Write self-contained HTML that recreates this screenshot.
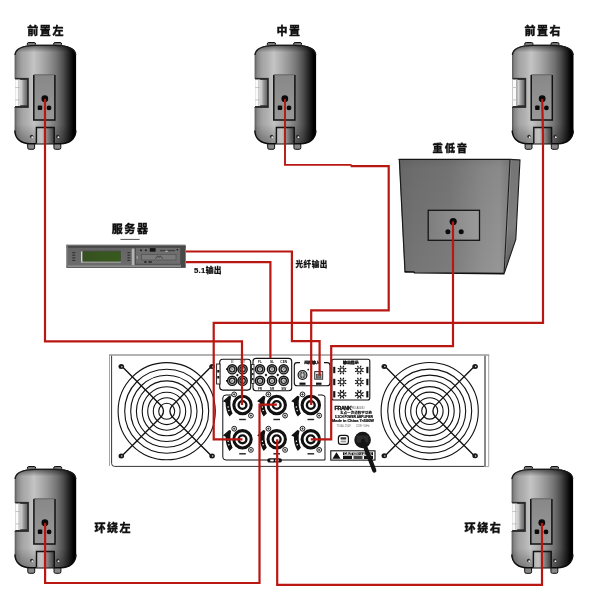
<!DOCTYPE html>
<html lang="zh-CN">
<head>
<meta charset="utf-8">
<title>5.1 功放接线图</title>
<style>
  html, body { margin: 0; padding: 0; background: #fff; }
  body { width: 600px; height: 598px; overflow: hidden; }
  svg { display: block; will-change: transform; }
  svg text { font-family: "Liberation Sans", "Noto Sans CJK SC", sans-serif; }
</style>
</head>
<body>
<svg width="600" height="598" viewBox="0 0 600 598">

<defs>
  <linearGradient id="spkg" x1="0" y1="0" x2="1" y2="0">
    <stop offset="0" stop-color="#585858"/>
    <stop offset="0.04" stop-color="#868686"/>
    <stop offset="0.12" stop-color="#a4a4a4"/>
    <stop offset="0.22" stop-color="#b2b2b2"/>
    <stop offset="0.31" stop-color="#c4c4c4"/>
    <stop offset="0.45" stop-color="#aaaaaa"/>
    <stop offset="0.58" stop-color="#8e8e8e"/>
    <stop offset="0.69" stop-color="#727272"/>
    <stop offset="0.79" stop-color="#4e4e4e"/>
    <stop offset="0.88" stop-color="#242424"/>
    <stop offset="0.96" stop-color="#000"/>
    <stop offset="1" stop-color="#000"/>
  </linearGradient>
  <linearGradient id="spkv" x1="0" y1="0" x2="0" y2="1">
    <stop offset="0" stop-color="#000" stop-opacity="0.55"/>
    <stop offset="0.035" stop-color="#000" stop-opacity="0.28"/>
    <stop offset="0.075" stop-color="#000" stop-opacity="0.0"/>
    <stop offset="0.8" stop-color="#000" stop-opacity="0.0"/>
    <stop offset="1" stop-color="#000" stop-opacity="0.3"/>
  </linearGradient>
  <linearGradient id="pnl" x1="0" y1="0" x2="0" y2="1">
    <stop offset="0" stop-color="#888888"/>
    <stop offset="1" stop-color="#989898"/>
  </linearGradient>
  <linearGradient id="brk" x1="0" y1="0" x2="1" y2="0">
    <stop offset="0" stop-color="#b4b4b4"/>
    <stop offset="0.3" stop-color="#c2c2c2"/>
    <stop offset="0.6" stop-color="#8a8a8a"/>
    <stop offset="1" stop-color="#3c3c3c"/>
  </linearGradient>
  <linearGradient id="hdl" x1="0" y1="0" x2="1" y2="0">
    <stop offset="0" stop-color="#e8e8e8"/>
    <stop offset="0.5" stop-color="#999"/>
    <stop offset="1" stop-color="#666"/>
  </linearGradient>
  <linearGradient id="subg" x1="0" y1="0" x2="1" y2="0">
    <stop offset="0" stop-color="#707070"/>
    <stop offset="0.15" stop-color="#767676"/>
    <stop offset="0.45" stop-color="#7c7c7c"/>
    <stop offset="0.75" stop-color="#909090"/>
    <stop offset="0.9" stop-color="#969696"/>
    <stop offset="1" stop-color="#828282"/>
  </linearGradient>
  <linearGradient id="subv" x1="0" y1="0" x2="0" y2="1">
    <stop offset="0" stop-color="#000" stop-opacity="0.14"/>
    <stop offset="0.08" stop-color="#000" stop-opacity="0.08"/>
    <stop offset="0.55" stop-color="#000" stop-opacity="0.04"/>
    <stop offset="1" stop-color="#000" stop-opacity="0"/>
  </linearGradient>
  <linearGradient id="subside" x1="0" y1="0" x2="0" y2="1">
    <stop offset="0" stop-color="#747474"/>
    <stop offset="0.6" stop-color="#7e7e7e"/>
    <stop offset="1" stop-color="#5a5a5a"/>
  </linearGradient>
  <linearGradient id="subp" x1="0" y1="0" x2="1" y2="0">
    <stop offset="0" stop-color="#7e7e7e"/>
    <stop offset="1" stop-color="#9a9a9a"/>
  </linearGradient>
  <linearGradient id="srvg" x1="0" y1="0" x2="0" y2="1">
    <stop offset="0" stop-color="#646464"/>
    <stop offset="1" stop-color="#6c6c6c"/>
  </linearGradient>
  <linearGradient id="lcdg" x1="0" y1="0" x2="1" y2="0">
    <stop offset="0" stop-color="#34501f"/>
    <stop offset="0.5" stop-color="#38561f"/>
    <stop offset="1" stop-color="#365a1c"/>
  </linearGradient>

<symbol id="spk" overflow="visible">
  <!-- top nubs -->
  <rect x="12.7" y="-2" width="8.3" height="3.6" rx="1.5" fill="#777" stroke="#111" stroke-width="1"/>
  <rect x="39" y="-2" width="8" height="3.6" rx="1.5" fill="#777" stroke="#111" stroke-width="1"/>
  <!-- bottom feet -->
  <rect x="13.1" y="97" width="6.9" height="7.8" rx="1.5" fill="#888" stroke="#111" stroke-width="1"/>
  <rect x="39.3" y="97" width="6.9" height="7.8" rx="1.5" fill="#888" stroke="#111" stroke-width="1"/>
  <!-- body -->
  <path d="M0,10.5 C0.3,4.5 6,0.5 22,0.3 L39.5,0.3 C55.5,0.5 61.2,4.5 61.5,10.5 L61.5,86 C61.5,94 55,99.5 46,99.5 L15.5,99.5 C6.5,99.5 0,94 0,86 Z" fill="url(#spkg)"/>
  <path d="M0,10.5 C0.3,4.5 6,0.5 22,0.3 L39.5,0.3 C55.5,0.5 61.2,4.5 61.5,10.5 L61.5,86 C61.5,94 55,99.5 46,99.5 L15.5,99.5 C6.5,99.5 0,94 0,86 Z" fill="url(#spkv)"/>
  <!-- top cap shading -->
  <path d="M0.4,10.5 C0.7,4.9 6,0.9 22,0.8 L39.5,0.8 C55.5,0.9 60.8,4.9 61.1,10.5" fill="none" stroke="#1a1a1a" stroke-width="1.3"/>
  <path d="M61.3,86 C61.3,94 55,99.2 46,99.2 L15.5,99.2 C6.5,99.2 0.2,94 0.2,86" fill="none" stroke="#0c0c0c" stroke-width="1.4"/>
  <!-- handle recess -->
  <rect x="0" y="33.4" width="14.2" height="30" fill="#2a2a2a"/>
  <rect x="0.5" y="35" width="5" height="26.5" fill="#fafafa"/>
  <rect x="5.5" y="35.4" width="7" height="25.4" fill="url(#hdl)"/><rect x="4" y="35" width="0.7" height="26.5" fill="#888"/>
  <rect x="0.5" y="42.5" width="5" height="0.8" fill="#bbb"/>
  <rect x="0.5" y="55" width="5" height="0.8" fill="#bbb"/>
  <rect x="-0.8" y="34" width="1.3" height="28.5" fill="#fff"/>
  <!-- panel -->
  <rect x="19.2" y="30" width="21.1" height="45.5" fill="url(#pnl)"/>
  <path d="M19.2,30.5 L19.2,75.5 L40.3,75.5 L40.3,30.5" fill="none" stroke="#111" stroke-width="1.5"/>
  <path d="M19.2,30.3 L40.3,30.3" fill="none" stroke="#555" stroke-width="0.7"/>
  <!-- jack -->
  <circle cx="30.2" cy="54.2" r="3.4" fill="#0a0a0a"/>
  <rect x="23.1" y="61.1" width="4.5" height="4.5" rx="1" fill="#0a0a0a"/>
  <circle cx="34.4" cy="63.4" r="2.4" fill="#0a0a0a"/>
  <!-- bottom bracket -->
  <rect x="21.8" y="83" width="17.8" height="16" fill="url(#brk)"/>
  <path d="M21.8,98.8 L21.8,83 L39.6,83 L39.6,98.8" fill="none" stroke="#111" stroke-width="1.4"/>
  <circle cx="17" cy="92" r="1.7" fill="#2a2a2a"/><circle cx="17.6" cy="92.7" r="0.9" fill="#f0f0f0"/>
  <circle cx="43.2" cy="92" r="1.7" fill="#2a2a2a"/><circle cx="43.8" cy="92.7" r="0.9" fill="#f0f0f0"/>
</symbol>
</defs>
<rect width="600" height="598" fill="#fff"/>
<!-- speakers -->
<use href="#spk" x="14.6" y="44.5"/>
<use href="#spk" x="254.6" y="44.5"/>
<use href="#spk" x="512" y="44.5"/>
<use href="#spk" x="14.7" y="468.5"/>
<use href="#spk" x="511.6" y="468.5"/>
<!-- subwoofer -->

<g>
  <polygon points="510.3,159 520,159.6 515.8,239.5 504.2,273.4" fill="url(#subside)"/>
  <polygon points="399,159 510.3,159 504.2,273.4 404.6,271.7" fill="url(#subg)"/>
  <polygon points="399,159 510.3,159 504.2,273.4 404.6,271.7" fill="url(#subv)"/>
  <path d="M510.9,160 L504.9,272" stroke="#b8b8b8" stroke-width="0.6" opacity="0.7"/>
  <path d="M398.6,159.3 L510.3,159.3" stroke="#141414" stroke-width="1.3"/>
  <path d="M510.1,159 L504.1,273.2" stroke="#1c1c1c" stroke-width="1.1"/>
  <path d="M404.6,271.9 L413.8,272 L414.5,272.8 L504.4,273.6" fill="none" stroke="#111" stroke-width="1.6"/>
  <path d="M399.3,159 L405,271.8" stroke="#1a1a1a" stroke-width="1.2"/>
  <path d="M510.3,159.4 L520,159.9 L515.8,239.5 L504.2,273.4" fill="none" stroke="#1c1c1c" stroke-width="1.1"/>
  <rect x="428.2" y="210.3" width="51.3" height="30" fill="url(#subp)" stroke="#141414" stroke-width="1.3"/>
  <circle cx="453.2" cy="221.6" r="3.6" fill="#0a0a0a"/>
  <circle cx="447.9" cy="231.8" r="2.5" fill="#0a0a0a"/>
  <circle cx="461.2" cy="231.8" r="2.5" fill="#0a0a0a"/>
</g>
<!-- server -->

<g>
  <rect x="66.5" y="244.8" width="119" height="23" fill="url(#srvg)"/>
  <rect x="66.5" y="244.8" width="119" height="1.4" fill="#6e6e6e"/>
  <rect x="66.5" y="246.2" width="119" height="1.5" fill="#404040"/>
  <rect x="66.5" y="265.4" width="119" height="1.7" fill="#8c8c8c"/>
  <rect x="66.5" y="267" width="119" height="0.9" fill="#5a5a5a"/>
  <rect x="66.5" y="244.8" width="1.5" height="23" fill="#747474"/>
  <rect x="181" y="246" width="4.5" height="21" fill="#484848"/>
  <!-- LCD -->
  <rect x="81" y="250.6" width="39.9" height="12.2" fill="#4a4a48"/>
  <rect x="81" y="251.4" width="1.6" height="11.4" fill="#d6d6d2"/>
  <rect x="81" y="261.4" width="39.9" height="1.4" fill="#a8a8a4"/>
  <rect x="82.6" y="251.6" width="37.8" height="9.8" fill="url(#lcdg)"/>
  <!-- small buttons -->
  <rect x="72.3" y="252" width="3" height="1.2" fill="#343434"/><rect x="72.3" y="254.6" width="3" height="1.2" fill="#343434"/><rect x="72.3" y="257.2" width="3" height="1.2" fill="#343434"/><rect x="72.3" y="259.8" width="3" height="1.2" fill="#343434"/>
  <rect x="127.4" y="252" width="2.8" height="1.2" fill="#343434"/><rect x="127.4" y="254.6" width="2.8" height="1.2" fill="#343434"/><rect x="127.4" y="257.2" width="2.8" height="1.2" fill="#343434"/><rect x="127.4" y="259.8" width="2.8" height="1.2" fill="#343434"/>
  <!-- divider -->
  <rect x="131.8" y="248.6" width="2.6" height="16.6" fill="#b4b4b4"/>
  <!-- right drive bay -->
  <rect x="135.4" y="247.6" width="45.2" height="16.6" fill="#6e6e6e" stroke="#464646" stroke-width="0.7"/>
  <rect x="141.6" y="254.6" width="34.4" height="5.4" fill="#7a7a7a" stroke="#4c4c4c" stroke-width="0.6"/>
  <rect x="149.8" y="248.1" width="5.8" height="3.6" fill="#161616"/>
  <circle cx="141" cy="250.2" r="1" fill="#222"/><circle cx="145.9" cy="250.2" r="1" fill="#222"/>
  <rect x="160" y="249.9" width="15" height="1.3" fill="#3e3e3e"/><rect x="165.5" y="250.6" width="2" height="1.2" fill="#ccc"/>
  <path d="M176.3,249 l2,0 l-1,2 Z" fill="#1a1a1a"/>
  <path d="M155.5,258.6 l2.2,-2.8 l1.3,1.8 l1.3,-1.8 l2.2,2.8" fill="none" stroke="#2c2c2c" stroke-width="0.7"/>
  <rect x="144.4" y="261.2" width="2" height="1.6" fill="#161616"/><rect x="148.4" y="261.2" width="3.4" height="1.6" fill="#2a2a2a"/>
  <rect x="136.6" y="256.2" width="1.2" height="2.4" fill="#aaa"/>
</g>
<!-- amplifier -->
<rect x="109" y="355" width="380" height="111.4" fill="#fff"/>
<path d="M109.5,466 L109.5,355 M488.7,355 L488.7,466.6 L485,466.6" fill="none" stroke="#a4a4a4" stroke-width="1"/>
<line x1="109" y1="355" x2="489.2" y2="355" stroke="#9a9a9a" stroke-width="1.5"/>
<path d="M111.6,355.7 L111.6,463.4 Q111.6,466.4 114.6,466.4 L484.4,466.4" fill="none" stroke="#2a2a2a" stroke-width="0.95"/>
<line x1="485" y1="355.7" x2="485" y2="466.6" stroke="#4a4a4a" stroke-width="1.3"/>
<circle cx="166.7" cy="411.2" r="8.0" fill="none" stroke="#111" stroke-width="1.1"/>
<circle cx="166.7" cy="411.2" r="13.4" fill="none" stroke="#111" stroke-width="1.1"/>
<circle cx="166.7" cy="411.2" r="19.0" fill="none" stroke="#111" stroke-width="1.1"/>
<circle cx="166.7" cy="411.2" r="24.5" fill="none" stroke="#111" stroke-width="1.1"/>
<circle cx="166.7" cy="411.2" r="30.3" fill="none" stroke="#111" stroke-width="1.1"/>
<circle cx="166.7" cy="411.2" r="36.0" fill="none" stroke="#111" stroke-width="1.1"/>
<circle cx="166.7" cy="411.2" r="42.0" fill="none" stroke="#111" stroke-width="1.1"/>
<circle cx="166.7" cy="411.2" r="48.6" fill="none" stroke="#111" stroke-width="1.1"/>
<path d="M122.1,366.59999999999997 L161.7,406.2 Q165.29999999999998,411.2 161.7,416.2 L122.1,455.8" fill="none" stroke="#111" stroke-width="1.35"/>
<path d="M211.29999999999998,366.59999999999997 L171.7,406.2 Q168.1,411.2 171.7,416.2 L211.29999999999998,455.8" fill="none" stroke="#111" stroke-width="1.35"/>
<ellipse cx="121.3" cy="366.5" rx="2.8" ry="2.5" fill="#1a1a1a"/>
<circle cx="121.8" cy="366.7" r="0.75" fill="#ddd"/>
<ellipse cx="121.3" cy="455.9" rx="2.8" ry="2.5" fill="#1a1a1a"/>
<circle cx="121.8" cy="456.1" r="0.75" fill="#ddd"/>
<ellipse cx="212.1" cy="366.5" rx="2.8" ry="2.5" fill="#1a1a1a"/>
<circle cx="212.6" cy="366.7" r="0.75" fill="#ddd"/>
<ellipse cx="212.1" cy="455.9" rx="2.8" ry="2.5" fill="#1a1a1a"/>
<circle cx="212.6" cy="456.1" r="0.75" fill="#ddd"/>
<circle cx="429.7" cy="411.1" r="8.0" fill="none" stroke="#111" stroke-width="1.1"/>
<circle cx="429.7" cy="411.1" r="13.4" fill="none" stroke="#111" stroke-width="1.1"/>
<circle cx="429.7" cy="411.1" r="19.0" fill="none" stroke="#111" stroke-width="1.1"/>
<circle cx="429.7" cy="411.1" r="24.5" fill="none" stroke="#111" stroke-width="1.1"/>
<circle cx="429.7" cy="411.1" r="30.3" fill="none" stroke="#111" stroke-width="1.1"/>
<circle cx="429.7" cy="411.1" r="36.0" fill="none" stroke="#111" stroke-width="1.1"/>
<circle cx="429.7" cy="411.1" r="42.0" fill="none" stroke="#111" stroke-width="1.1"/>
<circle cx="429.7" cy="411.1" r="48.6" fill="none" stroke="#111" stroke-width="1.1"/>
<path d="M385.09999999999997,366.5 L424.7,406.1 Q428.3,411.1 424.7,416.1 L385.09999999999997,455.70000000000005" fill="none" stroke="#111" stroke-width="1.35"/>
<path d="M474.3,366.5 L434.7,406.1 Q431.09999999999997,411.1 434.7,416.1 L474.3,455.70000000000005" fill="none" stroke="#111" stroke-width="1.35"/>
<ellipse cx="384.3" cy="366.4" rx="2.8" ry="2.5" fill="#1a1a1a"/>
<circle cx="384.8" cy="366.6" r="0.75" fill="#ddd"/>
<ellipse cx="384.3" cy="455.8" rx="2.8" ry="2.5" fill="#1a1a1a"/>
<circle cx="384.8" cy="456.0" r="0.75" fill="#ddd"/>
<ellipse cx="475.1" cy="366.4" rx="2.8" ry="2.5" fill="#1a1a1a"/>
<circle cx="475.6" cy="366.6" r="0.75" fill="#ddd"/>
<ellipse cx="475.1" cy="455.8" rx="2.8" ry="2.5" fill="#1a1a1a"/>
<circle cx="475.6" cy="456.0" r="0.75" fill="#ddd"/>
<rect x="219.7" y="359.3" width="31" height="30.8" rx="3" fill="#fff" stroke="#111" stroke-width="1.1"/>
<rect x="216.6" y="364" width="3.4" height="20" fill="#fff" stroke="#111" stroke-width="0.9"/>
<rect x="217.3" y="370" width="2" height="2.5" fill="#111"/><rect x="217.3" y="376" width="2" height="2.5" fill="#111"/>
<circle cx="232.2" cy="369.3" r="4.6" fill="#b4b4b4" stroke="#111" stroke-width="1.4"/><circle cx="232.2" cy="369.3" r="2.7" fill="#dcdcdc" stroke="#181818" stroke-width="1.2"/><path d="M230.6,367.7 l3.2,3.2 M233.79999999999998,367.7 l-3.2,3.2" stroke="#555" stroke-width="0.6"/>
<circle cx="232.2" cy="380.8" r="4.6" fill="#b4b4b4" stroke="#111" stroke-width="1.4"/><circle cx="232.2" cy="380.8" r="2.7" fill="#dcdcdc" stroke="#181818" stroke-width="1.2"/><path d="M230.6,379.2 l3.2,3.2 M233.79999999999998,379.2 l-3.2,3.2" stroke="#555" stroke-width="0.6"/>
<circle cx="242.6" cy="369.3" r="4.6" fill="#b4b4b4" stroke="#111" stroke-width="1.4"/><circle cx="242.6" cy="369.3" r="2.7" fill="#dcdcdc" stroke="#181818" stroke-width="1.2"/><path d="M241.0,367.7 l3.2,3.2 M244.2,367.7 l-3.2,3.2" stroke="#555" stroke-width="0.6"/>
<circle cx="242.6" cy="380.8" r="4.6" fill="#b4b4b4" stroke="#111" stroke-width="1.4"/><circle cx="242.6" cy="380.8" r="2.7" fill="#dcdcdc" stroke="#181818" stroke-width="1.2"/><path d="M241.0,379.2 l3.2,3.2 M244.2,379.2 l-3.2,3.2" stroke="#555" stroke-width="0.6"/>
<rect x="226" y="368.3" width="1.6" height="1.6" fill="#111"/><rect x="226" y="380" width="1.6" height="1.6" fill="#111"/>
<path d="M237.4,373.7 l1.4,1.4 l-1.4,1.4 l-1.4,-1.4 Z" fill="#111"/>
<text x="232.2" y="363.2" font-size="2.6" font-weight="bold" fill="#666" text-anchor="middle">IN</text>
<text x="242.6" y="363.2" font-size="2.6" font-weight="bold" fill="#666" text-anchor="middle">OUT</text>
<rect x="253" y="358.4" width="38.7" height="32.4" rx="3" fill="#fff" stroke="#111" stroke-width="1.1"/>
<rect x="251.6" y="364.5" width="2.4" height="19" fill="#fff" stroke="#111" stroke-width="0.8"/>
<rect x="252.1" y="368" width="1.4" height="2.2" fill="#111"/><rect x="252.1" y="373" width="1.4" height="2.2" fill="#111"/><rect x="252.1" y="378" width="1.4" height="2.2" fill="#111"/>
<circle cx="260" cy="369.3" r="4.6" fill="#b4b4b4" stroke="#111" stroke-width="1.4"/><circle cx="260" cy="369.3" r="2.7" fill="#dcdcdc" stroke="#181818" stroke-width="1.2"/><path d="M258.4,367.7 l3.2,3.2 M261.6,367.7 l-3.2,3.2" stroke="#555" stroke-width="0.6"/>
<circle cx="260" cy="380.8" r="4.6" fill="#b4b4b4" stroke="#111" stroke-width="1.4"/><circle cx="260" cy="380.8" r="2.7" fill="#dcdcdc" stroke="#181818" stroke-width="1.2"/><path d="M258.4,379.2 l3.2,3.2 M261.6,379.2 l-3.2,3.2" stroke="#555" stroke-width="0.6"/>
<circle cx="272" cy="369.3" r="4.6" fill="#b4b4b4" stroke="#111" stroke-width="1.4"/><circle cx="272" cy="369.3" r="2.7" fill="#dcdcdc" stroke="#181818" stroke-width="1.2"/><path d="M270.4,367.7 l3.2,3.2 M273.6,367.7 l-3.2,3.2" stroke="#555" stroke-width="0.6"/>
<circle cx="272" cy="380.8" r="4.6" fill="#b4b4b4" stroke="#111" stroke-width="1.4"/><circle cx="272" cy="380.8" r="2.7" fill="#dcdcdc" stroke="#181818" stroke-width="1.2"/><path d="M270.4,379.2 l3.2,3.2 M273.6,379.2 l-3.2,3.2" stroke="#555" stroke-width="0.6"/>
<circle cx="283.7" cy="369.3" r="4.6" fill="#b4b4b4" stroke="#111" stroke-width="1.4"/><circle cx="283.7" cy="369.3" r="2.7" fill="#dcdcdc" stroke="#181818" stroke-width="1.2"/><path d="M282.09999999999997,367.7 l3.2,3.2 M285.3,367.7 l-3.2,3.2" stroke="#555" stroke-width="0.6"/>
<circle cx="283.7" cy="380.8" r="4.6" fill="#b4b4b4" stroke="#111" stroke-width="1.4"/><circle cx="283.7" cy="380.8" r="2.7" fill="#dcdcdc" stroke="#181818" stroke-width="1.2"/><path d="M282.09999999999997,379.2 l3.2,3.2 M285.3,379.2 l-3.2,3.2" stroke="#555" stroke-width="0.6"/>
<path d="M266,373.6 l1.4,1.4 l-1.4,1.4 l-1.4,-1.4 Z" fill="#111"/>
<path d="M277.8,373.6 l1.4,1.4 l-1.4,1.4 l-1.4,-1.4 Z" fill="#111"/>
<text x="260" y="362.8" font-size="3.2" font-weight="bold" fill="#111" text-anchor="middle">FL</text>
<text x="272" y="362.8" font-size="3.2" font-weight="bold" fill="#111" text-anchor="middle">SL</text>
<text x="283.7" y="362.8" font-size="3.2" font-weight="bold" fill="#111" text-anchor="middle">CEN</text>
<text x="260" y="389.9" font-size="3.2" font-weight="bold" fill="#111" text-anchor="middle">FR</text>
<text x="272" y="389.9" font-size="3.2" font-weight="bold" fill="#111" text-anchor="middle">SR</text>
<text x="283.7" y="389.9" font-size="3.2" font-weight="bold" fill="#111" text-anchor="middle">SW</text>
<path d="M300,362.6 L297.2,362.6 Q294.3,362.6 294.3,365.5 L294.3,383 Q294.3,385.8 297.2,385.8 L327,385.8 Q330,385.8 330,383 L330,365.5 Q330,362.6 327,362.6 L324,362.6" fill="none" stroke="#111" stroke-width="1.1"/>
<text x="312" y="364.2" font-size="3.9" font-weight="900" fill="#111" text-anchor="middle" stroke="#111" stroke-width="0.3">光纤输入</text>
<circle cx="302.5" cy="375" r="4.4" fill="#fff" stroke="#111" stroke-width="1.2"/>
<circle cx="302.5" cy="375" r="2.9" fill="#4a4a4a" stroke="#222" stroke-width="0.6"/>
<path d="M300.4,372.9 l4.2,4.2 M304.6,372.9 l-4.2,4.2 M302.5,372 v6 M299.5,375 h6" stroke="#eee" stroke-width="0.55"/>
<circle cx="308.2" cy="369.6" r="0.9" fill="#111"/>
<rect x="314.7" y="371.6" width="8" height="7.6" fill="#ddd" stroke="#222" stroke-width="0.9"/>
<rect x="316.4" y="374.5" width="4.6" height="3.6" fill="#777" stroke="#222" stroke-width="0.5"/>
<rect x="299.5" y="382.6" width="6" height="2.2" fill="#111"/><rect x="316" y="382.6" width="5.5" height="2.2" fill="#111"/>
<rect x="331.8" y="359.3" width="38" height="40.7" rx="2" fill="#fff" stroke="#111" stroke-width="1.1"/>
<text x="350.8" y="363.9" font-size="3.9" font-weight="900" fill="#111" text-anchor="middle" stroke="#111" stroke-width="0.3">输出指示</text>
<g transform="translate(342,370)" stroke="#111" fill="none"><circle r="2" stroke-width="1.2" fill="#fff"/><line x1="2.40" y1="0.99" x2="4.25" y2="1.76" stroke-width="1.25"/><line x1="0.99" y1="2.40" x2="1.76" y2="4.25" stroke-width="1.25"/><line x1="-0.99" y1="2.40" x2="-1.76" y2="4.25" stroke-width="1.25"/><line x1="-2.40" y1="0.99" x2="-4.25" y2="1.76" stroke-width="1.25"/><line x1="-2.40" y1="-0.99" x2="-4.25" y2="-1.76" stroke-width="1.25"/><line x1="-0.99" y1="-2.40" x2="-1.76" y2="-4.25" stroke-width="1.25"/><line x1="0.99" y1="-2.40" x2="1.76" y2="-4.25" stroke-width="1.25"/><line x1="2.40" y1="-0.99" x2="4.25" y2="-1.76" stroke-width="1.25"/></g>
<g transform="translate(359.3,370)" stroke="#111" fill="none"><circle r="2" stroke-width="1.2" fill="#fff"/><line x1="2.40" y1="0.99" x2="4.25" y2="1.76" stroke-width="1.25"/><line x1="0.99" y1="2.40" x2="1.76" y2="4.25" stroke-width="1.25"/><line x1="-0.99" y1="2.40" x2="-1.76" y2="4.25" stroke-width="1.25"/><line x1="-2.40" y1="0.99" x2="-4.25" y2="1.76" stroke-width="1.25"/><line x1="-2.40" y1="-0.99" x2="-4.25" y2="-1.76" stroke-width="1.25"/><line x1="-0.99" y1="-2.40" x2="-1.76" y2="-4.25" stroke-width="1.25"/><line x1="0.99" y1="-2.40" x2="1.76" y2="-4.25" stroke-width="1.25"/><line x1="2.40" y1="-0.99" x2="4.25" y2="-1.76" stroke-width="1.25"/></g>
<rect x="333.2" y="366.8" width="2.1" height="6.4" fill="#111"/>
<rect x="366.3" y="366.8" width="2.1" height="6.4" fill="#111"/>
<g transform="translate(342,382)" stroke="#111" fill="none"><circle r="2" stroke-width="1.2" fill="#fff"/><line x1="2.40" y1="0.99" x2="4.25" y2="1.76" stroke-width="1.25"/><line x1="0.99" y1="2.40" x2="1.76" y2="4.25" stroke-width="1.25"/><line x1="-0.99" y1="2.40" x2="-1.76" y2="4.25" stroke-width="1.25"/><line x1="-2.40" y1="0.99" x2="-4.25" y2="1.76" stroke-width="1.25"/><line x1="-2.40" y1="-0.99" x2="-4.25" y2="-1.76" stroke-width="1.25"/><line x1="-0.99" y1="-2.40" x2="-1.76" y2="-4.25" stroke-width="1.25"/><line x1="0.99" y1="-2.40" x2="1.76" y2="-4.25" stroke-width="1.25"/><line x1="2.40" y1="-0.99" x2="4.25" y2="-1.76" stroke-width="1.25"/></g>
<g transform="translate(359.3,382)" stroke="#111" fill="none"><circle r="2" stroke-width="1.2" fill="#fff"/><line x1="2.40" y1="0.99" x2="4.25" y2="1.76" stroke-width="1.25"/><line x1="0.99" y1="2.40" x2="1.76" y2="4.25" stroke-width="1.25"/><line x1="-0.99" y1="2.40" x2="-1.76" y2="4.25" stroke-width="1.25"/><line x1="-2.40" y1="0.99" x2="-4.25" y2="1.76" stroke-width="1.25"/><line x1="-2.40" y1="-0.99" x2="-4.25" y2="-1.76" stroke-width="1.25"/><line x1="-0.99" y1="-2.40" x2="-1.76" y2="-4.25" stroke-width="1.25"/><line x1="0.99" y1="-2.40" x2="1.76" y2="-4.25" stroke-width="1.25"/><line x1="2.40" y1="-0.99" x2="4.25" y2="-1.76" stroke-width="1.25"/></g>
<rect x="333.2" y="378.8" width="2.1" height="6.4" fill="#111"/>
<rect x="366.3" y="378.8" width="2.1" height="6.4" fill="#111"/>
<g transform="translate(342,394.3)" stroke="#111" fill="none"><circle r="2" stroke-width="1.2" fill="#fff"/><line x1="2.40" y1="0.99" x2="4.25" y2="1.76" stroke-width="1.25"/><line x1="0.99" y1="2.40" x2="1.76" y2="4.25" stroke-width="1.25"/><line x1="-0.99" y1="2.40" x2="-1.76" y2="4.25" stroke-width="1.25"/><line x1="-2.40" y1="0.99" x2="-4.25" y2="1.76" stroke-width="1.25"/><line x1="-2.40" y1="-0.99" x2="-4.25" y2="-1.76" stroke-width="1.25"/><line x1="-0.99" y1="-2.40" x2="-1.76" y2="-4.25" stroke-width="1.25"/><line x1="0.99" y1="-2.40" x2="1.76" y2="-4.25" stroke-width="1.25"/><line x1="2.40" y1="-0.99" x2="4.25" y2="-1.76" stroke-width="1.25"/></g>
<g transform="translate(359.3,394.3)" stroke="#111" fill="none"><circle r="2" stroke-width="1.2" fill="#fff"/><line x1="2.40" y1="0.99" x2="4.25" y2="1.76" stroke-width="1.25"/><line x1="0.99" y1="2.40" x2="1.76" y2="4.25" stroke-width="1.25"/><line x1="-0.99" y1="2.40" x2="-1.76" y2="4.25" stroke-width="1.25"/><line x1="-2.40" y1="0.99" x2="-4.25" y2="1.76" stroke-width="1.25"/><line x1="-2.40" y1="-0.99" x2="-4.25" y2="-1.76" stroke-width="1.25"/><line x1="-0.99" y1="-2.40" x2="-1.76" y2="-4.25" stroke-width="1.25"/><line x1="0.99" y1="-2.40" x2="1.76" y2="-4.25" stroke-width="1.25"/><line x1="2.40" y1="-0.99" x2="4.25" y2="-1.76" stroke-width="1.25"/></g>
<rect x="333.2" y="391.1" width="2.1" height="6.4" fill="#111"/>
<rect x="366.3" y="391.1" width="2.1" height="6.4" fill="#111"/>
<path d="M226,395 Q222.8,395 222.8,398 L222.8,457 Q222.8,460 226,460 L325,460 L325,397.5 Q325,395 322,395 L318,395" fill="none" stroke="#111" stroke-width="1"/>
<path d="M226,395 L232,395" stroke="#111" stroke-width="1"/>
<line x1="325.5" y1="396" x2="325.5" y2="460" stroke="#999" stroke-width="0.6"/>

<g transform="translate(242.5,405)">
  <path d="M-19.6,-3.8 L-13.4,-9.2 L-11.3,-8.6 C-12.9,-2.5 -12.2,3.5 -9.9,8.4 L-13,11.6 C-15.6,8 -17,3 -16.9,-2.6 Z" fill="#111"/>
  <circle cx="-14.4" cy="2" r="0.75" fill="#fff"/><circle cx="-13.6" cy="5.4" r="0.75" fill="#fff"/>
  <circle r="8.7" fill="#fff" stroke="#111" stroke-width="3.1"/>
  <circle r="3.9" fill="#fff" stroke="#111" stroke-width="2.4"/>
  <circle cx="-8.3" cy="-10.6" r="2.4" fill="#fff" stroke="#111" stroke-width="0.95"/>
  <path d="M-9.5,-10.6 h2.4 M-8.3,-11.8 v2.4" stroke="#111" stroke-width="0.7"/>
  <circle cx="8.4" cy="10.6" r="2.4" fill="#fff" stroke="#111" stroke-width="0.95"/>
  <path d="M7.2,10.6 h2.4 M8.4,9.4 v2.4" stroke="#111" stroke-width="0.7"/>
</g>
<rect x="239.2" y="418.8" width="6.6" height="1.4" fill="#222"/>

<g transform="translate(242.5,439.3)">
  <path d="M-19.6,-3.8 L-13.4,-9.2 L-11.3,-8.6 C-12.9,-2.5 -12.2,3.5 -9.9,8.4 L-13,11.6 C-15.6,8 -17,3 -16.9,-2.6 Z" fill="#111"/>
  <circle cx="-14.4" cy="2" r="0.75" fill="#fff"/><circle cx="-13.6" cy="5.4" r="0.75" fill="#fff"/>
  <circle r="8.7" fill="#fff" stroke="#111" stroke-width="3.1"/>
  <circle r="3.9" fill="#fff" stroke="#111" stroke-width="2.4"/>
  <circle cx="-8.3" cy="-10.6" r="2.4" fill="#fff" stroke="#111" stroke-width="0.95"/>
  <path d="M-9.5,-10.6 h2.4 M-8.3,-11.8 v2.4" stroke="#111" stroke-width="0.7"/>
  <circle cx="8.4" cy="10.6" r="2.4" fill="#fff" stroke="#111" stroke-width="0.95"/>
  <path d="M7.2,10.6 h2.4 M8.4,9.4 v2.4" stroke="#111" stroke-width="0.7"/>
</g>
<rect x="239.2" y="453.1" width="6.6" height="1.4" fill="#222"/>

<g transform="translate(276.7,405)">
  <path d="M-19.6,-3.8 L-13.4,-9.2 L-11.3,-8.6 C-12.9,-2.5 -12.2,3.5 -9.9,8.4 L-13,11.6 C-15.6,8 -17,3 -16.9,-2.6 Z" fill="#111"/>
  <circle cx="-14.4" cy="2" r="0.75" fill="#fff"/><circle cx="-13.6" cy="5.4" r="0.75" fill="#fff"/>
  <circle r="8.7" fill="#fff" stroke="#111" stroke-width="3.1"/>
  <circle r="3.9" fill="#fff" stroke="#111" stroke-width="2.4"/>
  <circle cx="-8.3" cy="-10.6" r="2.4" fill="#fff" stroke="#111" stroke-width="0.95"/>
  <path d="M-9.5,-10.6 h2.4 M-8.3,-11.8 v2.4" stroke="#111" stroke-width="0.7"/>
  <circle cx="8.4" cy="10.6" r="2.4" fill="#fff" stroke="#111" stroke-width="0.95"/>
  <path d="M7.2,10.6 h2.4 M8.4,9.4 v2.4" stroke="#111" stroke-width="0.7"/>
</g>
<rect x="273.4" y="418.8" width="6.6" height="1.4" fill="#222"/>

<g transform="translate(276.7,439.3)">
  <path d="M-19.6,-3.8 L-13.4,-9.2 L-11.3,-8.6 C-12.9,-2.5 -12.2,3.5 -9.9,8.4 L-13,11.6 C-15.6,8 -17,3 -16.9,-2.6 Z" fill="#111"/>
  <circle cx="-14.4" cy="2" r="0.75" fill="#fff"/><circle cx="-13.6" cy="5.4" r="0.75" fill="#fff"/>
  <circle r="8.7" fill="#fff" stroke="#111" stroke-width="3.1"/>
  <circle r="3.9" fill="#fff" stroke="#111" stroke-width="2.4"/>
  <circle cx="-8.3" cy="-10.6" r="2.4" fill="#fff" stroke="#111" stroke-width="0.95"/>
  <path d="M-9.5,-10.6 h2.4 M-8.3,-11.8 v2.4" stroke="#111" stroke-width="0.7"/>
  <circle cx="8.4" cy="10.6" r="2.4" fill="#fff" stroke="#111" stroke-width="0.95"/>
  <path d="M7.2,10.6 h2.4 M8.4,9.4 v2.4" stroke="#111" stroke-width="0.7"/>
</g>
<rect x="273.4" y="453.1" width="6.6" height="1.4" fill="#222"/>

<g transform="translate(310.8,405)">
  <path d="M-19.6,-3.8 L-13.4,-9.2 L-11.3,-8.6 C-12.9,-2.5 -12.2,3.5 -9.9,8.4 L-13,11.6 C-15.6,8 -17,3 -16.9,-2.6 Z" fill="#111"/>
  <circle cx="-14.4" cy="2" r="0.75" fill="#fff"/><circle cx="-13.6" cy="5.4" r="0.75" fill="#fff"/>
  <circle r="8.7" fill="#fff" stroke="#111" stroke-width="3.1"/>
  <circle r="3.9" fill="#fff" stroke="#111" stroke-width="2.4"/>
  <circle cx="-8.3" cy="-10.6" r="2.4" fill="#fff" stroke="#111" stroke-width="0.95"/>
  <path d="M-9.5,-10.6 h2.4 M-8.3,-11.8 v2.4" stroke="#111" stroke-width="0.7"/>
  <circle cx="8.4" cy="10.6" r="2.4" fill="#fff" stroke="#111" stroke-width="0.95"/>
  <path d="M7.2,10.6 h2.4 M8.4,9.4 v2.4" stroke="#111" stroke-width="0.7"/>
</g>
<rect x="307.5" y="418.8" width="6.6" height="1.4" fill="#222"/>

<g transform="translate(310.8,439.3)">
  <path d="M-19.6,-3.8 L-13.4,-9.2 L-11.3,-8.6 C-12.9,-2.5 -12.2,3.5 -9.9,8.4 L-13,11.6 C-15.6,8 -17,3 -16.9,-2.6 Z" fill="#111"/>
  <circle cx="-14.4" cy="2" r="0.75" fill="#fff"/><circle cx="-13.6" cy="5.4" r="0.75" fill="#fff"/>
  <circle r="8.7" fill="#fff" stroke="#111" stroke-width="3.1"/>
  <circle r="3.9" fill="#fff" stroke="#111" stroke-width="2.4"/>
  <circle cx="-8.3" cy="-10.6" r="2.4" fill="#fff" stroke="#111" stroke-width="0.95"/>
  <path d="M-9.5,-10.6 h2.4 M-8.3,-11.8 v2.4" stroke="#111" stroke-width="0.7"/>
  <circle cx="8.4" cy="10.6" r="2.4" fill="#fff" stroke="#111" stroke-width="0.95"/>
  <path d="M7.2,10.6 h2.4 M8.4,9.4 v2.4" stroke="#111" stroke-width="0.7"/>
</g>
<rect x="307.5" y="453.1" width="6.6" height="1.4" fill="#222"/>
<rect x="267.3" y="458.2" width="14.6" height="4.4" rx="2.2" fill="#111"/>
<rect x="270.3" y="459.5" width="3.4" height="1.8" fill="#fff"/><rect x="275.3" y="459.5" width="3.4" height="1.8" fill="#fff"/>
<text x="334.6" y="409.6" font-size="5.4" font-weight="900" fill="#111" letter-spacing="-0.45" stroke="#111" stroke-width="0.35">FRANK</text>
<text x="350.2" y="409.2" font-size="2.6" fill="#444">PRO AUDIO</text>
<text x="340" y="414" font-size="3.6" font-weight="900" fill="#111" textLength="32" lengthAdjust="spacingAndGlyphs">五点一声道数字功放</text>
<text x="335" y="418" font-size="3.4" font-weight="bold" stroke="#111" stroke-width="0.2" fill="#111" textLength="38" lengthAdjust="spacingAndGlyphs">5.1CH POWER AMPLIFIER</text>
<text x="332" y="421.8" font-size="3.4" font-weight="bold" stroke="#111" stroke-width="0.2" fill="#111" textLength="42" lengthAdjust="spacingAndGlyphs">Made in China 7×500W</text>
<text x="336.5" y="427" font-size="2.6" fill="#666">T10AL 250V</text>
<text x="356" y="427" font-size="2.6" fill="#666">220V~50Hz</text>
<rect x="338.4" y="435.4" width="10" height="9" rx="2.6" fill="#fff" stroke="#111" stroke-width="1.2"/>
<rect x="340.6" y="437.3" width="5.6" height="2.2" fill="#333"/><rect x="340.6" y="440.6" width="5.6" height="1.8" fill="#999"/>
<rect x="330.8" y="450.8" width="44.2" height="9.3" fill="#fff" stroke="#111" stroke-width="1.1"/>
<path d="M336.5,452.2 L340.6,458.8 L332.4,458.8 Z" fill="#111"/>
<rect x="343" y="452.3" width="30" height="3" fill="#111"/>
<text x="344" y="454.9" font-size="2.8" font-weight="bold" fill="#fff" textLength="28" lengthAdjust="spacingAndGlyphs">CAUTION 注意高压</text>
<rect x="343" y="456" width="9" height="3" fill="#111"/><rect x="353.5" y="456" width="9" height="3" fill="#444"/><rect x="364" y="456" width="9" height="3" fill="#111"/>
<circle cx="362.6" cy="440" r="8.3" fill="#161616"/>
<rect x="356.5" y="435.5" width="12" height="7" rx="1" fill="#2c2c2c"/>
<path d="M363,441 L374.3,470.5" stroke="#141414" stroke-width="4.2" stroke-linecap="round" fill="none"/>
<!-- wires -->
<path d="M45,99 L45,341.4 L242,341.4 L242,405" fill="none" stroke="#b81712" stroke-width="2.2" stroke-linejoin="miter"/>
<path d="M285,99 L285,164.9 L351.5,164.9" fill="none" stroke="#b81712" stroke-width="1.9" stroke-linejoin="miter"/>
<path d="M350.6,166.1 L388.7,166.1 L388.7,310.3 L311.2,310.3 L311.2,405" fill="none" stroke="#b81712" stroke-width="2.2" stroke-linejoin="miter"/>
<path d="M542.2,99 L543,135 L543,322.8 L213.7,322.8 L213.7,439.3 L242.5,439.3" fill="none" stroke="#b81712" stroke-width="2.2" stroke-linejoin="miter"/>
<path d="M453,221.6 L453,346.1 L331.2,346.1 L331.2,439.3 L310.8,439.3" fill="none" stroke="#b81712" stroke-width="2.2" stroke-linejoin="miter"/>
<path d="M45.1,523 L45.1,583 L259.5,583 L259.5,404.6 L276.9,404.6" fill="none" stroke="#b81712" stroke-width="2.2" stroke-linejoin="miter"/>
<path d="M542,523 L542,584.9 L277.2,584.9 L277.2,439.3" fill="none" stroke="#b81712" stroke-width="2.2" stroke-linejoin="miter"/>
<path d="M186,251.5 L291.9,251.5 L291.9,341.1 L319.6,341.1 L319.6,375.5" fill="none" stroke="#b81712" stroke-width="2.2" stroke-linejoin="miter"/>
<path d="M186,262.2 L270.4,262.2 L270.4,358.2" fill="none" stroke="#b81712" stroke-width="2.2" stroke-linejoin="miter"/>
<!-- labels -->
<text x="46.099999999999994" y="34.8" font-size="11" font-weight="900" text-anchor="middle" fill="#111" stroke="#111" stroke-width="0.3" letter-spacing="1.6">前置左</text>
<text x="289.0" y="34.8" font-size="11" font-weight="900" text-anchor="middle" fill="#111" stroke="#111" stroke-width="0.3" letter-spacing="1.6">中置</text>
<text x="543.3" y="34.8" font-size="11" font-weight="900" text-anchor="middle" fill="#111" stroke="#111" stroke-width="0.3" letter-spacing="1.6">前置右</text>
<text x="450.7" y="152.4" font-size="10.3" font-weight="900" text-anchor="middle" fill="#111" stroke="#111" stroke-width="0.3" letter-spacing="1.8">重低音</text>
<text x="130.60000000000002" y="232.8" font-size="11" font-weight="900" text-anchor="middle" fill="#111" stroke="#111" stroke-width="0.3" letter-spacing="1.6">服务器</text>
<text x="113.3" y="532.4" font-size="11" font-weight="900" text-anchor="middle" fill="#111" stroke="#111" stroke-width="0.3" letter-spacing="1.6">环绕左</text>
<text x="483.5" y="531.8" font-size="11" font-weight="900" text-anchor="middle" fill="#111" stroke="#111" stroke-width="0.3" letter-spacing="1.6">环绕右</text>
<text x="207.95000000000002" y="273.2" font-size="7.8" font-weight="900" text-anchor="middle" fill="#111" stroke="#111" stroke-width="0.2" letter-spacing="0.3">5.1输出</text>
<text x="311.65" y="267.3" font-size="7.6" font-weight="900" text-anchor="middle" fill="#111" stroke="#111" stroke-width="0.2" letter-spacing="0.5">光纤输出</text>
<line x1="120.4" y1="239.4" x2="139.6" y2="239.4" stroke="#555" stroke-width="1"/>
</svg>
</body>
</html>
